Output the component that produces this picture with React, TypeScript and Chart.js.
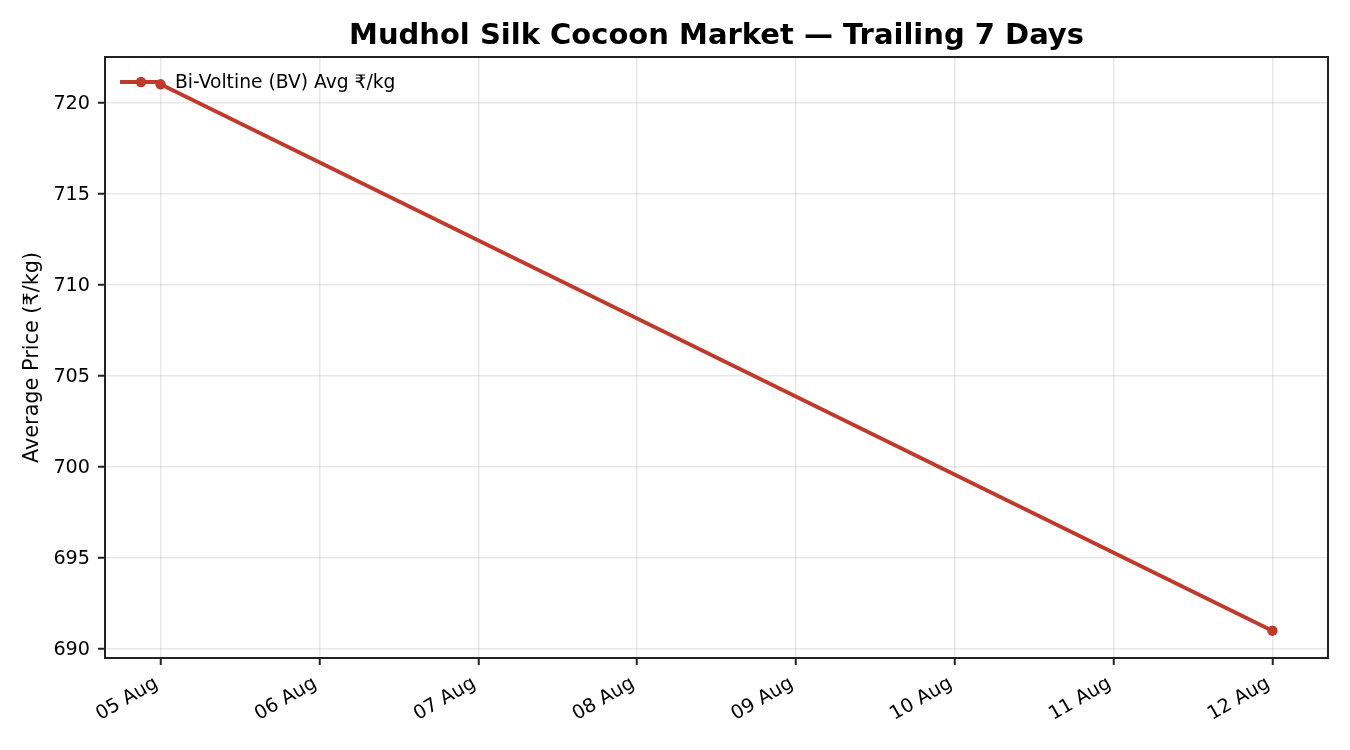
import React, { useEffect, useRef } from "react";
import { Chart, registerables } from "chart.js";

Chart.register(...registerables);

const chartTitle = "Mudhol Silk Cocoon Market — Trailing 7 Days";
const yAxisTitle = "Average Price (₹/kg)";
const seriesLabel = "Bi-Voltine (BV) Avg ₹/kg";
const dayLabels = ["05 Aug", "06 Aug", "07 Aug", "08 Aug", "09 Aug", "10 Aug", "11 Aug", "12 Aug"];
const pointDates = ["05 Aug", "12 Aug"];
const bvPrices = [721, 691];
const yTickValues = [690, 695, 700, 705, 710, 715, 720];

const lineColor = "#c0392b";
const fontFamily = "'DejaVu Sans', sans-serif";

const framePlugin = {
  id: "frame",
  afterDatasetsDraw(chart: any) {
    const { ctx, chartArea } = chart;
    ctx.save();
    ctx.strokeStyle = "#222";
    ctx.lineWidth = 2;
    ctx.strokeRect(chartArea.left, chartArea.top, chartArea.right - chartArea.left, chartArea.bottom - chartArea.top);
    ctx.restore();
  },
};

const areaTitlePlugin = {
  id: "areaTitle",
  afterDraw(chart: any) {
    const { ctx, chartArea } = chart;
    ctx.save();
    ctx.fillStyle = "#000";
    ctx.font = `bold 29px ${fontFamily}`;
    ctx.textAlign = "center";
    ctx.textBaseline = "alphabetic";
    ctx.fillText(chartTitle, (chartArea.left + chartArea.right) / 2, chartArea.top - 12.7);
    ctx.restore();
  },
};

const insideLegendPlugin = {
  id: "insideLegend",
  afterDraw(chart: any) {
    const { ctx, chartArea } = chart;
    const ds = chart.data.datasets[0];
    const x0 = chartArea.left + 15;
    const y = chartArea.top + 25;
    ctx.save();
    ctx.strokeStyle = ds.borderColor;
    ctx.lineWidth = ds.borderWidth;
    ctx.beginPath();
    ctx.moveTo(x0, y);
    ctx.lineTo(x0 + 42, y);
    ctx.stroke();
    ctx.fillStyle = ds.pointBackgroundColor;
    ctx.beginPath();
    ctx.arc(x0 + 21, y, ds.pointRadius, 0, Math.PI * 2);
    ctx.fill();
    ctx.fillStyle = "#000";
    ctx.font = `18.7px ${fontFamily}`;
    ctx.textAlign = "left";
    ctx.textBaseline = "middle";
    ctx.fillText(ds.label, x0 + 55, y + 1);
    ctx.restore();
  },
};

export default function App() {
  const canvasRef = useRef<HTMLCanvasElement | null>(null);

  useEffect(() => {
    const canvas = canvasRef.current;
    if (!canvas) return;
    const points = pointDates.map((d, i) => ({ x: dayLabels.indexOf(d), y: bvPrices[i] }));
    const chart = new Chart(canvas, {
      type: "line",
      data: {
        datasets: [
          {
            label: seriesLabel,
            data: points,
            borderColor: lineColor,
            backgroundColor: lineColor,
            pointBackgroundColor: lineColor,
            pointBorderColor: lineColor,
            pointRadius: 5.2,
            pointBorderWidth: 0,
            borderWidth: 3.8,
            tension: 0,
          },
        ],
      },
      plugins: [framePlugin, areaTitlePlugin, insideLegendPlugin],
      options: {
        animation: false,
        responsive: true,
        maintainAspectRatio: false,
        devicePixelRatio: 1,
        layout: { padding: { left: 0, right: 22, top: 57, bottom: 0 } },
        plugins: {
          legend: { display: false },
          tooltip: { enabled: false },
          title: { display: false },
        },
        scales: {
          x: {
            type: "linear",
            min: -0.35,
            max: dayLabels.length - 1 + 0.35,
            afterBuildTicks(scale: any) {
              scale.ticks = dayLabels.map((_, i) => ({ value: i }));
            },
            afterFit(scale: any) {
              scale.height = 92;
            },
            ticks: {
              autoSkip: false,
              maxRotation: 30,
              minRotation: 30,
              padding: 7,
              labelOffset: -4,
              color: "#000",
              font: { family: fontFamily, size: 19.2 },
              callback: (v: any) => dayLabels[Math.round(Number(v))] ?? "",
            },
            grid: {
              color: "rgba(0,0,0,0.09)",
              lineWidth: 1.5,
              tickColor: "#222",
              tickWidth: 2,
              tickLength: 7,
              drawTicks: true,
            },
            border: { display: false },
          },
          y: {
            type: "linear",
            min: 689.5,
            max: 722.5,
            afterBuildTicks(scale: any) {
              scale.ticks = yTickValues.map((v) => ({ value: v }));
            },
            afterFit(scale: any) {
              scale.width = 105;
            },
            ticks: {
              padding: 8,
              labelOffset: 1.5,
              color: "#000",
              font: { family: fontFamily, size: 19.2 },
              callback: (v: any) => String(v),
            },
            grid: {
              color: "rgba(0,0,0,0.09)",
              lineWidth: 1.5,
              tickColor: "#222",
              tickWidth: 2,
              tickLength: 7,
            },
            border: { display: false },
            title: {
              display: true,
              text: yAxisTitle,
              color: "#000",
              font: { family: fontFamily, size: 20.8 },
              padding: { top: 20, bottom: 0 },
            },
          },
        },
      },
    } as any);
    return () => chart.destroy();
  }, []);

  return (
    <div style={{ position: "fixed", left: 0, top: 0, width: 1350, height: 750, background: "#fff" }}>
      <canvas ref={canvasRef} />
    </div>
  );
}
